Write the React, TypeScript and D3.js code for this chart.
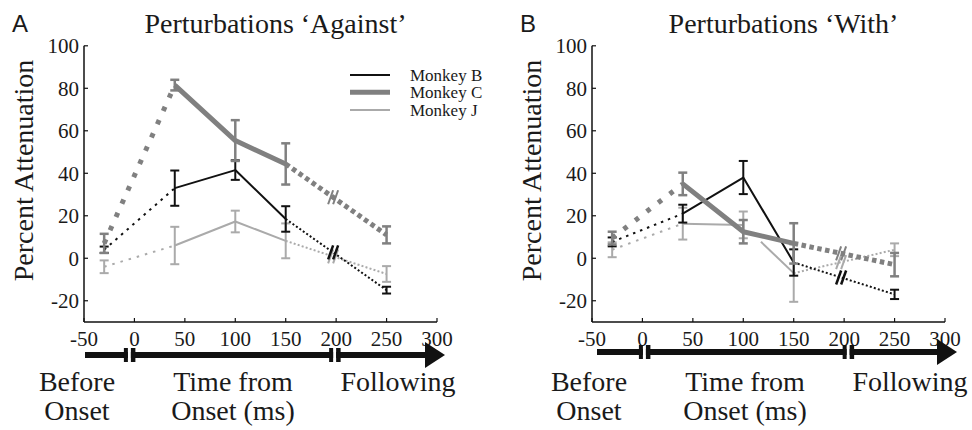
import React from "react";
import * as d3 from "d3";

// ---------- data ----------
const xValues = [-30, 40, 100, 150, 250];
const xTicks = [-50, 0, 50, 100, 150, 200, 250, 300];
const yTicks = [-20, 0, 20, 40, 60, 80, 100];
const breakX = 197;

// Perturbations 'Against'
const againstB = [4, 33, 41.5, 18.5, -15];
const againstBErr = [1.5, 8.3, 4.6, 6, 1.6];
const againstC = [7, 81.5, 55.4, 44.4, 11];
const againstCErr = [4.5, 2.5, 9.6, 9.7, 4];
const againstJ = [-4, 6, 17.3, 8.2, -7.4];
const againstJErr = [3, 8.8, 5.1, 8.2, 3.7];

// Perturbations 'With'
const withB = [7.7, 21, 38, -2, -17];
const withBErr = [2.1, 4.2, 7.8, 6.2, 2.2];
const withC = [9.5, 35, 12.5, 7, -3];
const withCErr = [3, 5.3, 5.5, 9.5, 5.5];
const withJ = [4, 16.3, 15.7, -7, 4];
const withJErr = [3.5, 7.5, 6.3, 13.5, 3];

const seriesNames = ["Monkey B", "Monkey C", "Monkey J"];

// ---------- styles ----------
const styles = [
  { color: "#111111", width: 2, pre: "2.5 5", post: "2 2.2", errW: 2 },
  { color: "#808080", width: 5, pre: "4.5 10", post: "4.5 3.5", errW: 2.5 },
  { color: "#aaaaaa", width: 2, pre: "2.5 6", post: "2 2.2", errW: 2 },
];
const SERIF = "Liberation Serif, Times New Roman, serif";
const SANS = "Liberation Sans, Arial, sans-serif";
const TXT = "#1a1a1a";

type Series = { vals: number[]; errs: number[]; solidStart?: number[] };

function Panel(props: {
  ox: number;
  title: string;
  letter: string;
  series: Series[];
  legend: boolean;
  arrowY: number;
  bdx: number;
  gaps: number[];
}) {
  const { ox, title, letter, series, legend, arrowY, bdx, gaps } = props;
  const x = d3.scaleLinear().domain([-50, 300]).range([84, 437]);
  const y = d3.scaleLinear().domain([-30, 100]).range([322, 45.8]);
  const line = d3
    .line<[number, number]>()
    .x((d) => x(d[0]))
    .y((d) => y(d[1]));

  const order = [2, 0, 1];

  const arrowStart = 85 + bdx;
  const arrowTip = 445 + bdx;
  const headLen = 20;
  const g1 = x(gaps[0]) + bdx;
  const g2 = x(gaps[1]) + bdx;

  return (
    <g transform={`translate(${ox},0)`}>
      <text x={12} y={32} fontFamily={SANS} fontSize={24} fill={TXT}>
        {letter}
      </text>
      <text x={275.5} y={33} textAnchor="middle" fontFamily={SERIF} fontSize={28} fill={TXT}>
        {title}
      </text>
      <text
        transform={`translate(33,170.5) rotate(-90)`}
        textAnchor="middle"
        fontFamily={SERIF}
        fontSize={28}
        fill={TXT}
      >
        Percent Attenuation
      </text>

      {/* axes */}
      <line x1={x(-50)} x2={x(-50)} y1={y(100)} y2={y(-30)} stroke="#111" strokeWidth={1.5} />
      <line x1={x(-50)} x2={x(300)} y1={y(-30)} y2={y(-30)} stroke="#111" strokeWidth={1.5} />
      {yTicks.map((t) => (
        <g key={"y" + t}>
          <line x1={x(-50)} x2={x(-50) + 4} y1={y(t)} y2={y(t)} stroke="#111" strokeWidth={1.2} />
          <text
            x={x(-50) - 5}
            y={y(t)}
            dy="0.35em"
            textAnchor="end"
            fontFamily={SERIF}
            fontSize={21}
            fill={TXT}
          >
            {String(t)}
          </text>
        </g>
      ))}
      {xTicks.map((t) => (
        <g key={"x" + t}>
          <line x1={x(t)} x2={x(t)} y1={y(-30)} y2={y(-30) - 4} stroke="#111" strokeWidth={1.2} />
          <text x={x(t)} y={346} textAnchor="middle" fontFamily={SERIF} fontSize={21} fill={TXT}>
            {String(t)}
          </text>
        </g>
      ))}

      {/* series */}
      {order.map((si) => {
        const s = series[si];
        const st = styles[si];
        const pts: [number, number][] = xValues.map((xv, i) => [xv, s.vals[i]]);
        const pre = [pts[0], pts[1]];
        let solid = [pts[1], pts[2], pts[3]];
        const extra: [number, number][][] = [];
        if (s.solidStart) {
          solid = [pts[1], pts[2]];
          const f = s.solidStart[0];
          const a = pts[2];
          const b = pts[3];
          extra.push([[a[0] + (b[0] - a[0]) * f, a[1] + (b[1] - a[1]) * f], b]);
        }
        const post = [pts[3], pts[4]];
        const t = (breakX - pts[3][0]) / (pts[4][0] - pts[3][0]);
        const by = pts[3][1] + (pts[4][1] - pts[3][1]) * t;
        const bx = x(breakX);
        const byy = y(by);
        return (
          <g key={"s" + si}>
            {xValues.map((xv, i) => {
              const v = s.vals[i];
              const e = s.errs[i];
              const cx = x(xv);
              return (
                <g key={"e" + i} stroke={st.color} strokeWidth={st.errW} fill="none">
                  <line x1={cx} x2={cx} y1={y(v + e)} y2={y(v - e)} />
                  <line x1={cx - 4.5} x2={cx + 4.5} y1={y(v + e)} y2={y(v + e)} />
                  <line x1={cx - 4.5} x2={cx + 4.5} y1={y(v - e)} y2={y(v - e)} />
                </g>
              );
            })}
            <path d={line(pre as any) || ""} fill="none" stroke={st.color} strokeWidth={st.width} strokeDasharray={st.pre} />
            <path d={line(solid as any) || ""} fill="none" stroke={st.color} strokeWidth={st.width} strokeLinejoin="round" />
            {extra.map((seg, k) => (
              <path key={"x" + k} d={line(seg) || ""} fill="none" stroke={st.color} strokeWidth={st.width} />
            ))}
            <path d={line(post as any) || ""} fill="none" stroke={st.color} strokeWidth={st.width} strokeDasharray={st.post} />
            {[-2.5, 2.5].map((dx) => (
              <line
                key={"b" + dx}
                x1={bx + dx - 2.5}
                y1={byy + 7}
                x2={bx + dx + 2.5}
                y2={byy - 7}
                stroke={st.color}
                strokeWidth={si === 0 ? 2.5 : 2}
              />
            ))}
          </g>
        );
      })}

      {/* legend */}
      {legend &&
        seriesNames.map((n, i) => {
          const ly = [75, 92.3, 110][i];
          return (
            <g key={n}>
              <line x1={350} x2={390} y1={ly} y2={ly} stroke={styles[i].color} strokeWidth={styles[i].width} />
              <text x={410} y={ly} dy="0.33em" fontFamily={SERIF} fontSize={17} fill={TXT}>
                {n}
              </text>
            </g>
          );
        })}

      {/* time arrow */}
      <g fill="#111" stroke="none">
        <rect x={arrowStart} y={arrowY - 3} width={g1 - 1.5 - arrowStart} height={6} />
        <rect x={g1 + 1.5} y={arrowY - 3} width={g2 - 1.5 - (g1 + 1.5)} height={6} />
        <rect x={g2 + 1.5} y={arrowY - 3} width={arrowTip - headLen - (g2 + 1.5)} height={6} />
        {[g1, g2].map((g, k) => (
          <g key={"g" + k}>
            <rect x={g - 5.5} y={arrowY - 7} width={4} height={14} />
            <rect x={g + 1.5} y={arrowY - 7} width={4.5} height={14} />
          </g>
        ))}
        <path d={`M${arrowTip - headLen},${arrowY - 13}L${arrowTip},${arrowY}L${arrowTip - headLen},${arrowY + 13}Z`} />
      </g>
      <g fontFamily={SERIF} fontSize={28} fill={TXT} textAnchor="middle">
        <text x={77 + bdx} y={391}>Before</text>
        <text x={77 + bdx} y={420}>Onset</text>
        <text x={233 + bdx} y={391}>Time from</text>
        <text x={233 + bdx} y={420}>Onset (ms)</text>
        <text x={398 + bdx} y={391}>Following</text>
      </g>
    </g>
  );
}

export default function App() {
  const against: Series[] = [
    { vals: againstB, errs: againstBErr },
    { vals: againstC, errs: againstCErr },
    { vals: againstJ, errs: againstJErr },
  ];
  const withS: Series[] = [
    { vals: withB, errs: withBErr },
    { vals: withC, errs: withCErr },
    { vals: withJ, errs: withJErr, solidStart: [0.35] },
  ];
  return (
    <svg
      width={972}
      height={430}
      style={{ position: "absolute", left: 0, top: 0, display: "block", background: "#fff" }}
    >
      <rect width={972} height={430} fill="#fff" />
      <Panel ox={0} title="Perturbations ‘Against’" letter="A" series={against} legend={true} arrowY={355} bdx={0} gaps={[-5, 198.5]} />
      <Panel ox={508} title="Perturbations ‘With’" letter="B" series={withS} legend={false} arrowY={352} bdx={4} gaps={[-2, 200]} />
    </svg>
  );
}
